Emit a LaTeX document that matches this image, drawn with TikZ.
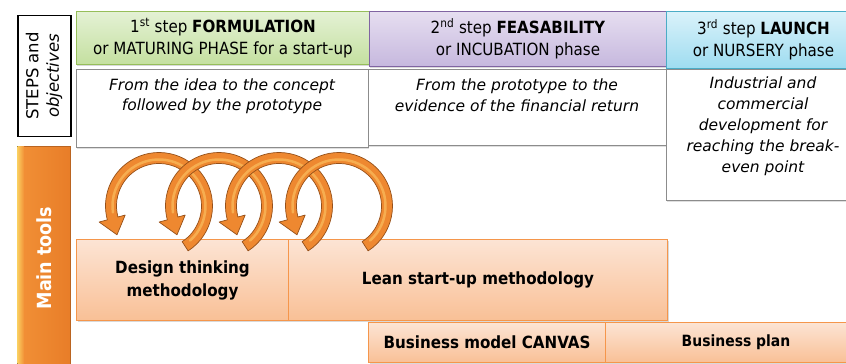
\documentclass[tikz,border=0pt]{standalone}
\usepackage{fontspec}
\setmainfont{DejaVu Sans Condensed}
\newfontfamily\wide{DejaVu Sans}
\usetikzlibrary{shadows}
\definecolor{grnT}{RGB}{228,241,212}
\definecolor{grnB}{RGB}{196,224,160}
\definecolor{grnD}{RGB}{150,190,90}
\definecolor{purT}{RGB}{230,222,240}
\definecolor{purB}{RGB}{198,184,222}
\definecolor{purD}{RGB}{128,100,162}
\definecolor{bluT}{RGB}{218,242,250}
\definecolor{bluB}{RGB}{158,220,240}
\definecolor{bluD}{RGB}{75,172,198}
\definecolor{orT}{RGB}{252,228,212}
\definecolor{orB}{RGB}{249,192,150}
\definecolor{orD}{RGB}{245,150,75}
\definecolor{arrF}{RGB}{238,136,48}
\definecolor{arrH}{RGB}{250,190,95}
\definecolor{arrD}{RGB}{150,80,25}
\definecolor{barL}{RGB}{250,205,95}
\definecolor{barM}{RGB}{242,145,55}
\definecolor{barR}{RGB}{232,125,40}
\tikzset{
  box/.style={anchor=north west, inner sep=0pt, align=center, line width=1pt},
  hdrfont/.style={font=\fontsize{16.8}{22}\selectfont},
  hshadow/.style={drop shadow={opacity=0.3, shadow xshift=0.5pt, shadow yshift=-1.5pt}},
  hgreen/.style={box, hdrfont, hshadow, draw=grnD, top color=grnT, bottom color=grnB},
  hpurple/.style={box, hdrfont, hshadow, draw=purD, top color=purT, bottom color=purB},
  hblue/.style={box, hdrfont, hshadow, draw=bluD, top color=bluT, bottom color=bluB},
  wbox/.style={box, draw=black!45, line width=0.8pt, fill=white,
    drop shadow={opacity=0.25, shadow xshift=1pt, shadow yshift=-1.5pt}},
  obox/.style={box, draw=orD, line width=1pt, top color=orT, bottom color=orB,
    font=\bfseries\fontsize{16.8}{23}\selectfont,
    drop shadow={opacity=0.3, shadow xshift=1pt, shadow yshift=-1.5pt}},
  objtext/.style={align=center, font=\wide\itshape\fontsize{15.5}{20.5}\selectfont},
  curlarrow/.style={fill=arrF, draw=arrD, line width=0.7pt, line join=round},
  curlshine/.style={draw=arrH, line width=2.5pt, line cap=round, opacity=0.7},
}
\newcommand{\curl}[3]{%
  \begin{scope}[shift={(#1,#2)}]
    \path[curlarrow] (-57:53.5) arc[start angle=-57, end angle=195, radius=53.5]
      -- (195:62) -- (-42,-28.8) -- (195:35) -- (195:42.5)
      arc[start angle=195, end angle=-57, radius=42.5] -- cycle;
    \path[curlshine] (-48:46.5) arc[start angle=-48, end angle=188, radius=46.5];
    \coordinate (#3) at (0,0);
  \end{scope}}
\begin{document}
\begin{tikzpicture}[x=1pt,y=1pt]
\useasboundingbox (0,0) rectangle (846,364);
\clip (0,0) rectangle (846,364);
% left column
\node[box, draw=black, line width=1.5pt, fill=white, minimum width=53, minimum height=121] (stepsbox) at (17,349) {};
\node[rotate=90, align=center, font=\wide\fontsize{16.5}{20.5}\selectfont] (stepstxt) at (44,288) {STEPS and\\\textit{objectives}};
\node[box, draw=barR!80!black, line width=0.8pt, left color=barM, right color=barR, minimum width=53, minimum height=230] (toolsbar) at (17,218) {};
\fill[left color=barL, right color=barM] ([shift={(0.4,-0.4)}]toolsbar.north west) rectangle ([shift={(7,0.4)}]toolsbar.south west);
\node[rotate=90, text=white, font=\bfseries\fontsize{19.5}{22}\selectfont] (toolstxt) at (44,106) {Main tools};
% headers
\node[hgreen, minimum width=293, minimum height=53] (h1) at (76,353) {1\textsuperscript{st} step \textbf{FORMULATION}\\or MATURING PHASE for a start-up};
\node[hpurple, minimum width=297, minimum height=55] (h2) at (369,353) {2\textsuperscript{nd} step \textbf{FEASABILITY}\\or INCUBATION phase};
\node[hblue, minimum width=194, minimum height=57] (h3) at (666,353) {3\textsuperscript{rd} step \textbf{LAUNCH}\\or NURSERY phase};
% objective boxes
\node[wbox, minimum width=292, minimum height=78] (o1) at (76,295) {};
\node[wbox, minimum width=298, minimum height=76] (o2) at (368,295) {};
\node[wbox, minimum width=194, minimum height=131] (o3) at (666,295) {};
\node[objtext] (o1t) at (222,268) {From the idea to the concept\\followed by the prototype};
\node[objtext] (o2t) at (517,269) {From the prototype to the\\evidence of the financial return};
\node[objtext, font=\wide\itshape\fontsize{15.5}{21}\selectfont] (o3t) at (763,238) {Industrial and\\commercial\\development for\\reaching the break-\\even point};
% tools boxes
\node[obox, minimum width=212, minimum height=81] (design) at (76,125) {Design thinking\\methodology};
\node[obox, minimum width=379, minimum height=81] (lean) at (288,125) {Lean start-up methodology};
\node[obox, minimum width=237, minimum height=40] (canvas) at (368,42) {Business model CANVAS};
\node[obox, minimum width=261, minimum height=40, font=\bfseries\fontsize{15.5}{20}\selectfont] (bplan) at (605,42) {Business plan};
% curl arrows
\curl{159}{158}{c1}
\curl{219}{158}{c2}
\curl{279}{158}{c3}
\curl{339}{158}{c4}
\end{tikzpicture}
\end{document}
